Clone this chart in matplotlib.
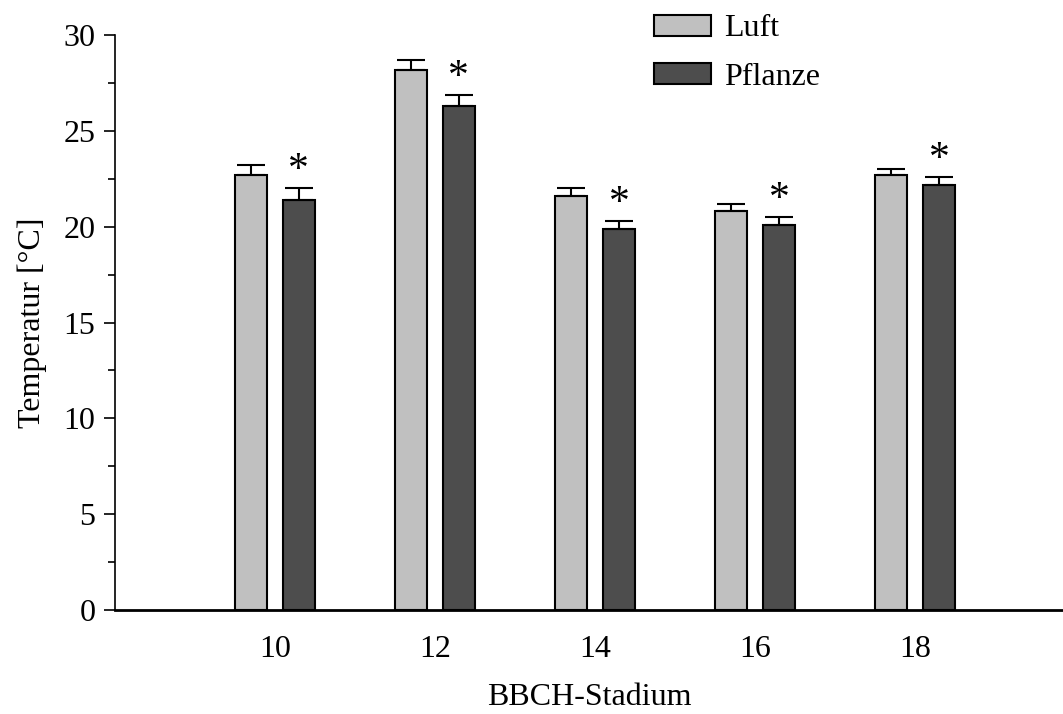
import matplotlib.pyplot as plt
import numpy as np
from matplotlib.ticker import MultipleLocator

plt.rcParams['font.family'] = ['Liberation Serif', 'DejaVu Serif']

stadium = [10, 12, 14, 16, 18]
luft = [22.7, 28.2, 21.6, 20.8, 22.7]
luft_err = [0.5, 0.5, 0.4, 0.4, 0.3]
pflanze = [21.4, 26.3, 19.9, 20.1, 22.2]
pflanze_err = [0.6, 0.6, 0.4, 0.4, 0.4]
signif = [True, True, True, True, True]

x = np.array(stadium, dtype=float)
w = 0.4
fs = 23

fig = plt.figure(figsize=(10.63, 7.14), dpi=100)
ax = fig.add_axes([0.108, 0.1457, 0.892, 0.805])

err_kw = dict(capsize=10, elinewidth=1.5, capthick=1.5, ecolor='black')
b1 = ax.bar(x - 0.3, luft, w, color='#c0c0c0', edgecolor='black', linewidth=1.5,
            yerr=[np.zeros(5), luft_err], error_kw=err_kw, label='Luft', zorder=2)
b2 = ax.bar(x + 0.3, pflanze, w, color='#4d4d4d', edgecolor='black', linewidth=1.5,
            yerr=[np.zeros(5), pflanze_err], error_kw=err_kw, label='Pflanze', zorder=2)

# significance stars above Pflanze bars
for xi, v, e, s in zip(x, pflanze, pflanze_err, signif):
    if s:
        ax.text(xi + 0.3, v + e + 0.9, '*', ha='center', va='center', fontsize=30)

ax.set_xlim(8, 19.85)
ax.set_ylim(0, 30)
ax.set_xticks(stadium)
ax.set_xticklabels([str(s) for s in stadium])
ax.yaxis.set_major_locator(MultipleLocator(5))
ax.yaxis.set_minor_locator(MultipleLocator(2.5))
ax.tick_params(axis='x', length=0, pad=18, labelsize=fs)
ax.tick_params(axis='y', which='major', length=8, width=1.2, labelsize=fs, pad=6)
ax.tick_params(axis='y', which='minor', length=5, width=1.2)

for sp in ['top', 'right']:
    ax.spines[sp].set_visible(False)
ax.spines['left'].set_linewidth(1.2)
ax.spines['bottom'].set_linewidth(2)

ax.set_ylabel('Temperatur [°C]', fontsize=fs, labelpad=12)
ax.set_xlabel('BBCH-Stadium', fontsize=fs, labelpad=14)

fig.legend(handles=[b1.patches[0], b2.patches[0]], labels=['Luft', 'Pflanze'],
           loc='upper left', bbox_to_anchor=(0.588, 1.02), frameon=False, fontsize=fs,
           handlelength=1.8, handleheight=0.63, labelspacing=0.6, handletextpad=0.4)

fig.patch.set_facecolor('white')
fig.savefig('out.png', dpi=100)
